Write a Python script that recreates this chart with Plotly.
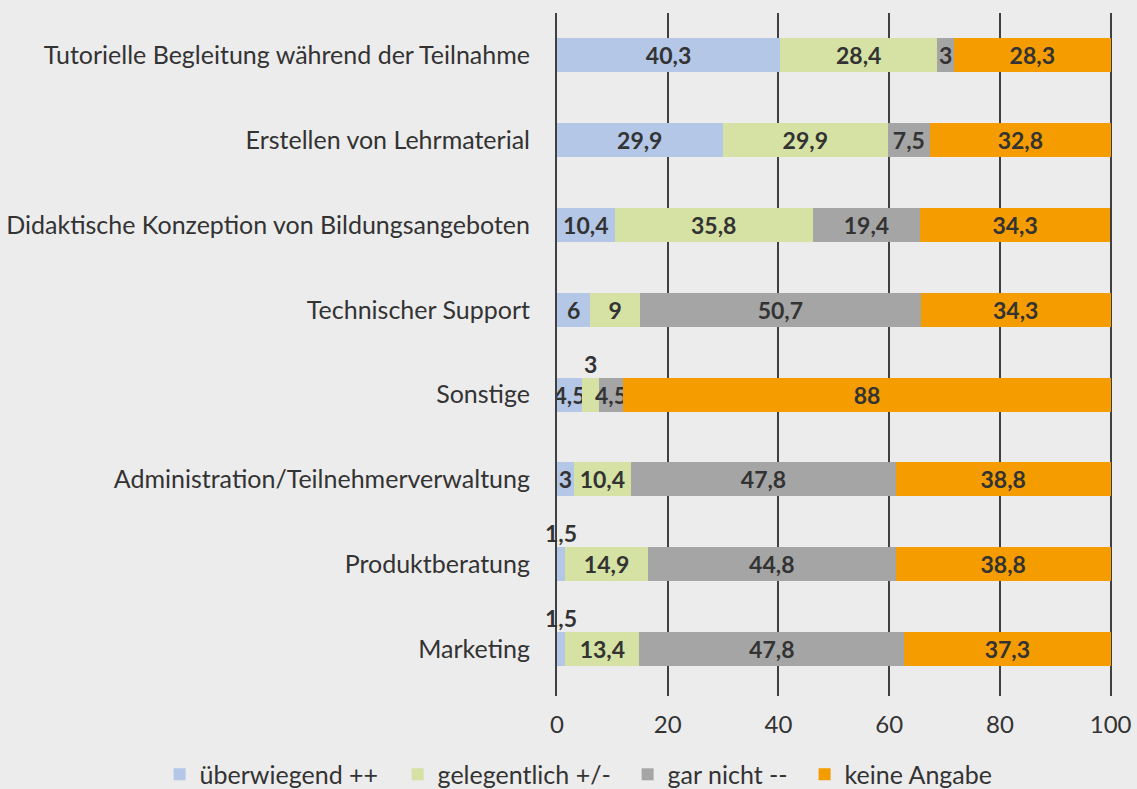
import plotly.graph_objects as go

categories = [
    "Tutorielle Begleitung während der Teilnahme",
    "Erstellen von Lehrmaterial",
    "Didaktische Konzeption von Bildungsangeboten",
    "Technischer Support",
    "Sonstige",
    "Administration/Teilnehmerverwaltung",
    "Produktberatung",
    "Marketing",
]
series_names = ["überwiegend ++", "gelegentlich +/-", "gar nicht --", "keine Angabe"]
ueberwiegend = [40.3, 29.9, 10.4, 6, 4.5, 3, 1.5, 1.5]
gelegentlich = [28.4, 29.9, 35.8, 9, 3, 10.4, 14.9, 13.4]
gar_nicht = [3, 7.5, 19.4, 50.7, 4.5, 47.8, 44.8, 47.8]
keine_angabe = [28.3, 32.8, 34.3, 34.3, 88, 38.8, 38.8, 37.3]
x_ticks = [0, 20, 40, 60, 80, 100]

# labels drawn above the bar instead of inside: (series index, category)
above_labels = [(1, "Sonstige"), (0, "Produktberatung"), (0, "Marketing")]

colors = ["#b4c7e7", "#d5e2a3", "#a5a5a5", "#f59c00"]
legend_widths = [193, 185, 132, 150]
series = [ueberwiegend, gelegentlich, gar_nicht, keine_angabe]
font_family = "Lato, Open Sans, sans-serif"
txt_color = "#333333"

def fmt(v):
    return f"{v:g}".replace(".", ",")

fig = go.Figure()
for si, (name, vals, col) in enumerate(zip(series_names, series, colors)):
    texts = []
    for c, v in zip(categories, vals):
        texts.append("" if (si, c) in above_labels else fmt(v))
    fig.add_trace(go.Bar(
        name=name, y=categories, x=vals, orientation="h",
        marker=dict(color=col, line=dict(width=0)),
        text=texts, textposition="inside", insidetextanchor="middle",
        constraintext="none", textangle=0,
        textfont=dict(family=font_family, size=23, color=txt_color, weight="bold"),
        hoverinfo="skip", legendwidth=legend_widths[si],
    ))

# annotations above small segments
for si, c in above_labels:
    idx = categories.index(c)
    start = sum(series[k][idx] for k in range(si))
    v = series[si][idx]
    fig.add_annotation(
        x=start + v / 2, y=c, yshift=31, text=fmt(v), showarrow=False,
        font=dict(family=font_family, size=23, color=txt_color, weight="bold"),
    )

fig.update_layout(
    barmode="stack",
    bargap=0.6,
    width=1137, height=789,
    paper_bgcolor="#ececec", plot_bgcolor="#ececec",
    margin=dict(l=557, r=25, t=13, b=93, autoexpand=False),
    font=dict(family=font_family, size=25, color=txt_color),
    showlegend=True,
    legend=dict(
        orientation="h", x=-0.716, xanchor="left", y=-0.115, yanchor="middle",
        font=dict(size=25, color=txt_color), itemwidth=30, traceorder="normal",
        bgcolor="rgba(0,0,0,0)",
    ),
    xaxis=dict(
        range=[0, 100.25], tickvals=x_ticks, showgrid=True, gridcolor="#404040",
        gridwidth=2, zeroline=False, showline=False, ticks="", automargin=False,
        tickfont=dict(size=24, color=txt_color), ticklabelstandoff=12,
    ),
    yaxis=dict(
        autorange="reversed", showgrid=False, zeroline=False, showline=True,
        linecolor="#404040", linewidth=2, automargin=False,
        ticks="", tickfont=dict(size=25, color=txt_color), ticklabelstandoff=20,
    ),
)
fig.write_html(
    "out.html",
    config={"displayModeBar": False},
    post_script="document.body.style.margin='0';document.body.style.overflow='hidden';",
)
